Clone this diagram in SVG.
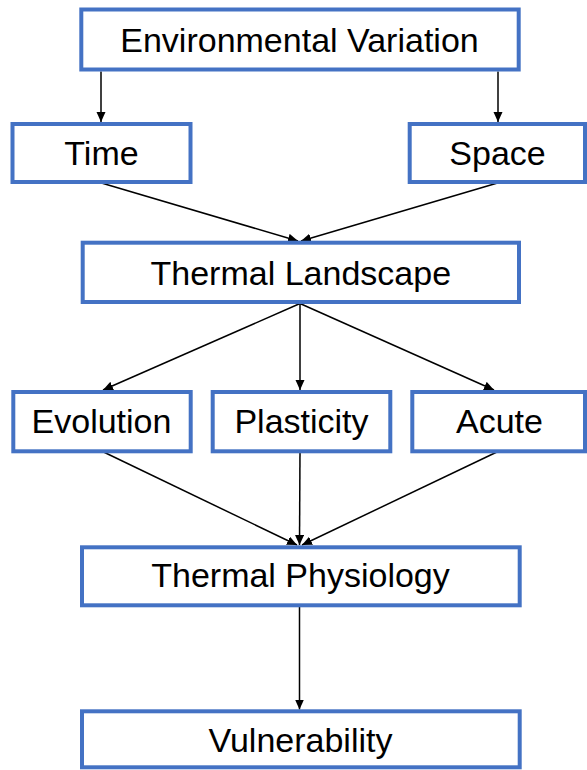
<svg xmlns="http://www.w3.org/2000/svg" width="587" height="770" viewBox="0 0 587 770">
  <style>
    .box { fill: #ffffff; stroke: #4472C4; stroke-width: 4; }
    .lbl { font-family: "Liberation Sans", Arial, sans-serif; font-size: 34px; fill: #000000; text-anchor: middle; }
    .edge { stroke: #000000; stroke-width: 1.5; fill: none; marker-end: url(#arrow); }
  </style>
  <defs>
    <marker id="arrow" markerUnits="userSpaceOnUse" markerWidth="11" markerHeight="10" refX="10" refY="4.5" orient="auto">
      <path d="M0,0 L10,4.5 L0,9 z" fill="#000000"/>
    </marker>
  </defs>
  <rect width="587" height="770" fill="#ffffff"/>
  <g id="connectors">
    <line class="edge" x1="101" y1="71.5" x2="101" y2="122"/>
    <line class="edge" x1="498" y1="71.5" x2="498" y2="122"/>
    <line class="edge" x1="101.5" y1="183" x2="298" y2="241"/>
    <line class="edge" x1="497.5" y1="183" x2="301" y2="241"/>
    <line class="edge" x1="300" y1="303.5" x2="103" y2="390"/>
    <line class="edge" x1="300" y1="303.5" x2="300" y2="390"/>
    <line class="edge" x1="300" y1="303.5" x2="494" y2="390"/>
    <line class="edge" x1="101.5" y1="451" x2="297" y2="545"/>
    <line class="edge" x1="300" y1="451" x2="299.5" y2="545"/>
    <line class="edge" x1="499" y1="451" x2="302" y2="545"/>
    <line class="edge" x1="299.5" y1="607" x2="299.5" y2="709.5"/>
  </g>
  <g id="env">
    <rect class="box" x="81.3" y="9.5" width="437.4" height="60"/>
    <text class="lbl" x="299.5" y="52">Environmental Variation</text>
  </g>
  <g id="time">
    <rect class="box" x="12.5" y="124" width="178" height="58"/>
    <text class="lbl" x="101.5" y="165">Time</text>
  </g>
  <g id="space">
    <rect class="box" x="409.7" y="124" width="175.3" height="58"/>
    <text class="lbl" x="497.5" y="165">Space</text>
  </g>
  <g id="landscape">
    <rect class="box" x="82.7" y="242.7" width="436.3" height="59.3"/>
    <text class="lbl" x="300.8" y="285">Thermal Landscape</text>
  </g>
  <g id="evolution">
    <rect class="box" x="13.3" y="392" width="177.4" height="59.3"/>
    <text class="lbl" x="101.5" y="433">Evolution</text>
  </g>
  <g id="plasticity">
    <rect class="box" x="212.7" y="392" width="177.6" height="59.3"/>
    <text class="lbl" x="301.5" y="433">Plasticity</text>
  </g>
  <g id="acute">
    <rect class="box" x="412.3" y="392" width="172.7" height="59.3"/>
    <text class="lbl" x="499.5" y="433">Acute</text>
  </g>
  <g id="physiology">
    <rect class="box" x="82" y="547.3" width="437.7" height="58"/>
    <text class="lbl" x="300.5" y="587">Thermal Physiology</text>
  </g>
  <g id="vulnerability">
    <rect class="box" x="82" y="711.3" width="437.7" height="56"/>
    <text class="lbl" x="300.5" y="752">Vulnerability</text>
  </g>
</svg>
